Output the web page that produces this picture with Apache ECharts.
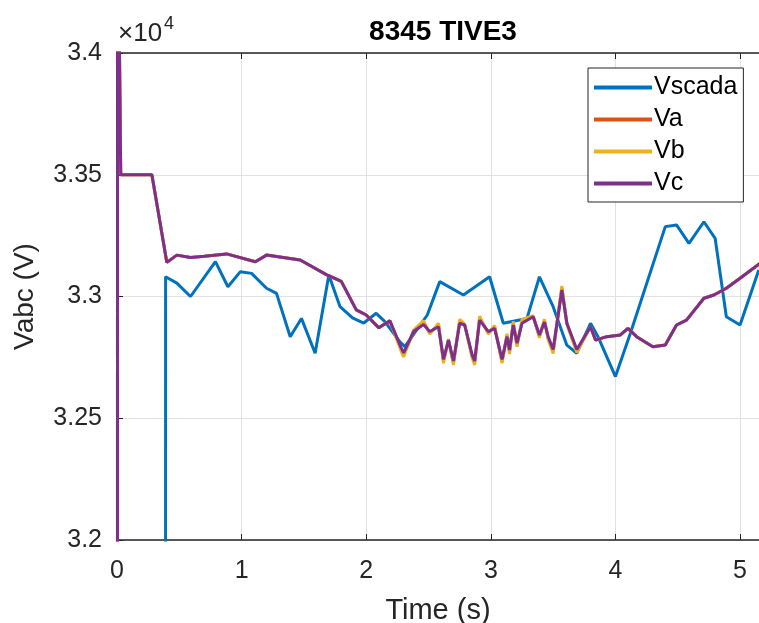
<!DOCTYPE html>
<html>
<head>
<meta charset="utf-8">
<script src="https://cdn.jsdelivr.net/npm/echarts@6/dist/echarts.min.js"></script>
<style>
html, body { margin: 0; padding: 0; background: #fff; }
#main { width: 759px; height: 623px; }
</style>
</head>
<body>
<div id="main"></div>
<script>
// ---------- 数据 ----------
// 三相电压 (Va, Vb, Vc) 共用时间轴
var phaseTime = [0, 0.004, 0.03, 0.28, 0.40, 0.48, 0.59, 0.70, 0.88, 1.11, 1.20, 1.47, 1.68, 1.80, 1.92, 2.00, 2.10, 2.19,
    2.28, 2.30, 2.38, 2.46, 2.51, 2.58, 2.62, 2.66, 2.70, 2.75, 2.79, 2.85, 2.87, 2.91, 2.98, 3.03, 3.09, 3.13, 3.15, 3.18,
    3.21, 3.25, 3.34, 3.39, 3.43, 3.46, 3.50, 3.57, 3.61, 3.69,
    3.80, 3.84, 3.93, 4.04, 4.10, 4.17, 4.30, 4.40, 4.49, 4.57, 4.71, 4.79, 4.89, 5.00, 5.16];
var vcVal = [0, 34800, 33500, 33500, 33140, 33170, 33160, 33165, 33175, 33143, 33170, 33150, 33090, 33062, 32945, 32924, 32872, 32900,
    32790, 32768, 32856, 32885, 32856, 32876, 32742, 32821, 32735, 32890, 32883, 32760, 32735, 32903, 32856, 32869, 32742, 32835, 32780, 32883,
    32808, 32890, 32917, 32842, 32895, 32835, 32782, 33027, 32890, 32782,
    32876, 32821, 32835, 32842, 32869, 32835, 32794, 32801, 32883, 32903, 32993, 33006, 33034, 33075, 33136];
var vaVal = [0, 34800, 33500, 33500, 33140, 33170, 33160, 33165, 33175, 33143, 33170, 33150, 33090, 33062, 32945, 32924, 32872, 32900,
    32782, 32760, 32856, 32893, 32850, 32884, 32734, 32821, 32727, 32898, 32883, 32755, 32727, 32911, 32850, 32875, 32734, 32841, 32772, 32891,
    32800, 32898, 32917, 32836, 32901, 32829, 32774, 33035, 32890, 32776,
    32876, 32821, 32835, 32842, 32869, 32835, 32794, 32801, 32883, 32903, 32993, 33006, 33034, 33075, 33136];
var vbVal = [0, 34800, 33500, 33500, 33140, 33170, 33160, 33165, 33175, 33143, 33170, 33150, 33090, 33062, 32945, 32924, 32872, 32900,
    32776, 32752, 32862, 32901, 32846, 32890, 32726, 32825, 32719, 32906, 32887, 32748, 32719, 32919, 32846, 32881, 32726, 32847, 32764, 32899,
    32794, 32906, 32921, 32830, 32907, 32823, 32766, 33043, 32886, 32770,
    32876, 32821, 32835, 32842, 32869, 32835, 32794, 32801, 32883, 32903, 32993, 33006, 33034, 33075, 33136];

// SCADA 测量值
var scadaTime = [0.385, 0.39, 0.48, 0.59, 0.79, 0.89, 0.99, 1.08, 1.20, 1.28, 1.39, 1.48, 1.59, 1.70, 1.79, 1.89, 1.98, 2.08, 2.15,
    2.27, 2.31, 2.49, 2.59, 2.78, 2.99, 3.10, 3.29, 3.39, 3.50, 3.61, 3.69, 3.80, 3.86, 4.00, 4.12, 4.40, 4.49, 4.59, 4.71, 4.80,
    4.89, 5.00, 5.15];
var scadaVal = [0, 33081, 33055, 33000, 33143, 33040, 33102, 33095, 33034, 33013, 32835, 32910, 32767, 33088, 32958, 32912, 32891, 32931, 32897,
    32814, 32794, 32924, 33061, 33006, 33081, 32890, 32910, 33081, 32958, 32800, 32767, 32890, 32835, 32671, 32849, 33287, 33294, 33218, 33307, 33239,
    32917, 32883, 33109];

var seriesNames = ['Vscada', 'Va', 'Vb', 'Vc'];
var seriesColors = ['#0072BD', '#D95319', '#EDB120', '#7E2F8E'];
var yTicks = [32000, 32500, 33000, 33500, 34000];

function pairs(t, v) {
    var out = [];
    for (var i = 0; i < t.length; i++) {
        out.push([t[i], v[i]]);
    }
    return out;
}

var fontFam = "'Liberation Sans', Arial, Helvetica, sans-serif";
var txtColor = '#262626';

var chart = echarts.init(document.getElementById('main'), null, { renderer: 'canvas' });

var lineSeries = [scadaVal, vaVal, vbVal, vcVal].map(function (vals, i) {
    return {
        name: seriesNames[i],
        type: 'line',
        symbol: 'none',
        clip: true,
        data: pairs(i === 0 ? scadaTime : phaseTime, vals),
        lineStyle: { width: 3, color: seriesColors[i] },
        itemStyle: { color: seriesColors[i] }
    };
});

var option = {
    animation: false,
    backgroundColor: '#fff',
    textStyle: { fontFamily: fontFam },
    title: {
        text: '8345 TIVE3',
        left: 438,
        top: 13,
        textAlign: 'center',
        textStyle: { fontFamily: fontFam, fontSize: 28, fontWeight: 'bold', color: '#000' }
    },
    // ×10^4 指数标记
    graphic: [
        { type: 'text', left: 118, top: 21, style: { text: '×10', font: '26px ' + fontFam, fill: txtColor } },
        { type: 'text', left: 164, top: 15, style: { text: '4', font: '18px ' + fontFam, fill: txtColor } }
    ],
    legend: {
        data: seriesNames,
        orient: 'vertical',
        left: 588,
        top: 68,
        padding: [7, 6, 6, 6],
        itemGap: 7,
        itemWidth: 58,
        itemHeight: 4,
        icon: 'rect',
        backgroundColor: '#fff',
        borderColor: txtColor,
        borderWidth: 1,
        textStyle: { fontFamily: fontFam, fontSize: 25, lineHeight: 25, color: '#000', padding: [0, 0, 0, -3] }
    },
    grid: {
        left: 117,
        right: 0,
        top: 53,
        bottom: 83,
        containLabel: false,
        outerBoundsMode: 'none'
    },
    xAxis: [{
        type: 'value',
        min: 0,
        max: 5.152,
        interval: 1,
        name: 'Time (s)',
        nameLocation: 'middle',
        nameGap: 56,
        nameTextStyle: { fontFamily: fontFam, fontSize: 29, color: txtColor },
        axisLine: { show: true, onZero: false, lineStyle: { color: txtColor, width: 1.5 } },
        axisTick: { show: true, inside: true, length: 6, lineStyle: { color: txtColor } },
        axisLabel: {
            margin: 19,
            fontFamily: fontFam,
            fontSize: 25,
            color: txtColor,
            showMaxLabel: false,
            formatter: function (v) {
                return Math.abs(v - Math.round(v)) < 1e-6 ? String(Math.round(v)) : '';
            }
        },
        splitLine: { show: true, lineStyle: { color: '#e2e2e2', width: 1 } }
    }, {
        // 顶部边框
        type: 'value',
        position: 'top',
        min: 0,
        max: 5.152,
        interval: 1,
        axisLine: { show: true, onZero: false, lineStyle: { color: txtColor, width: 1.5 } },
        axisTick: { show: true, inside: true, length: 6, lineStyle: { color: txtColor } },
        axisLabel: { show: false },
        splitLine: { show: false }
    }],
    yAxis: {
        type: 'value',
        min: yTicks[0],
        max: yTicks[yTicks.length - 1],
        interval: 500,
        name: 'Vabc (V)',
        nameLocation: 'middle',
        nameGap: 78,
        nameTextStyle: { fontFamily: fontFam, fontSize: 28, color: txtColor },
        axisLine: { show: true, onZero: false, lineStyle: { color: txtColor, width: 1.5 } },
        axisTick: { show: true, inside: true, length: 6, lineStyle: { color: txtColor } },
        axisLabel: {
            margin: 15,
            fontFamily: fontFam,
            fontSize: 25,
            color: txtColor,
            formatter: function (v) { return String(Math.round(v) / 10000); }
        },
        splitLine: { show: true, lineStyle: { color: '#e2e2e2', width: 1 } }
    },
    series: lineSeries
};

chart.setOption(option);
</script>
</body>
</html>
